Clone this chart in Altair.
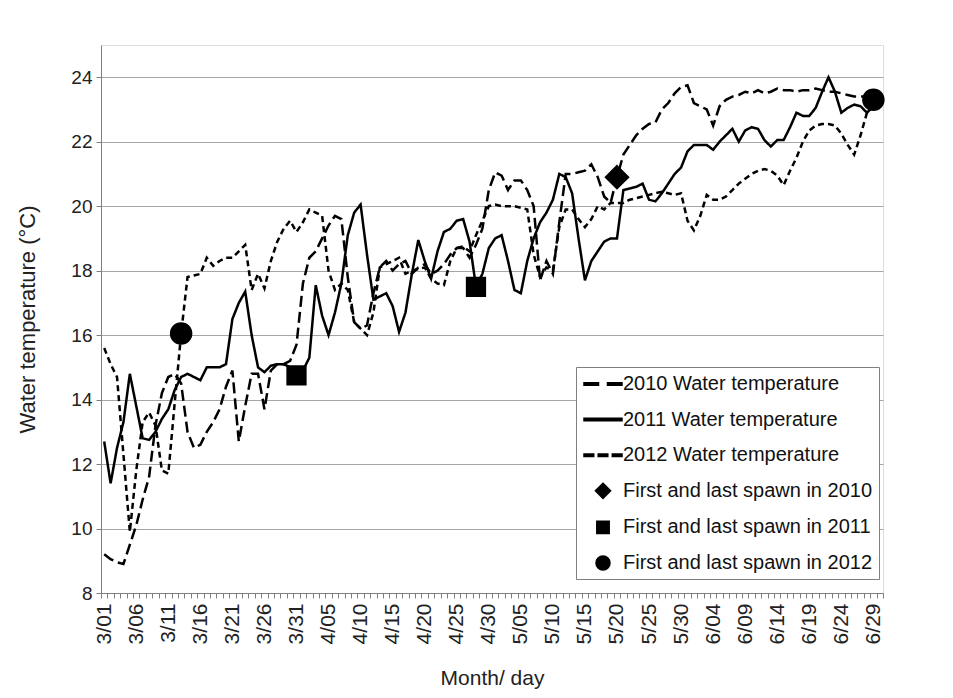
import altair as alt
import pandas as pd

# ---------------- data ----------------
MONTH_LENGTHS = [(3, 31), (4, 30), (5, 31), (6, 30)]
DAY_LABELS = [f"{m}/{d:02d}" for m, n in MONTH_LENGTHS for d in range(1, n + 1)]

TICK_LABELS = ["3/01", "3/06", "3/11", "3/16", "3/21", "3/26", "3/31", "4/05",
               "4/10", "4/15", "4/20", "4/25", "4/30", "5/05", "5/10", "5/15",
               "5/20", "5/25", "5/30", "6/04", "6/09", "6/14", "6/19", "6/24", "6/29"]

Y_TICKS = [8, 10, 12, 14, 16, 18, 20, 22, 24]

# daily water temperature 3/01 .. 6/29
T2010 = [9.2, 9.05, 8.95, 8.9, 9.5, 10.1, 10.9, 11.6, 13.2, 14.2,
         14.7, 14.8, 14.5, 13.0, 12.5, 12.6, 13.0, 13.3, 13.7, 14.4,
         14.9, 12.7, 13.8, 14.8, 14.8, 13.7, 14.9, 15.1, 15.1, 15.2,
         15.7, 17.6, 18.4, 18.6, 19.0, 19.4, 19.7, 19.6, 17.8, 16.4,
         16.2, 16.3, 17.3, 18.1, 18.3, 18.0, 18.2, 18.3, 17.9, 18.1,
         18.2, 17.9, 18.0, 18.2, 18.5, 18.7, 18.7, 18.4, 18.8, 19.3,
         20.5, 21.05, 20.95, 20.5, 20.8, 20.8, 20.5, 20.0, 17.7, 18.3,
         17.9, 19.5, 21.0, 21.0, 21.05, 21.1, 21.3, 20.9, 20.3, 20.1,
         20.9, 21.6, 21.9, 22.2, 22.4, 22.55, 22.6, 23.0, 23.2, 23.5,
         23.7, 23.75, 23.2, 23.1, 23.0, 22.5, 23.1, 23.3, 23.4, 23.45,
         23.55, 23.5, 23.6, 23.5, 23.55, 23.65, 23.6, 23.6, 23.55, 23.6,
         23.6, 23.65, 23.6, 23.55, 23.55, 23.5, 23.45, 23.4, 23.4, 23.4,
         23.35]

T2011 = [12.7, 11.4, 12.5, 13.3, 14.8, 13.8, 12.8, 12.75, 13.0, 13.4,
         13.7, 14.3, 14.7, 14.8, 14.7, 14.6, 15.0, 15.0, 15.0, 15.1,
         16.5, 17.0, 17.35, 16.0, 15.0, 14.85, 15.05, 15.1, 15.1, 15.0,
         14.8, 14.9, 15.3, 17.55, 16.6, 16.0, 16.7, 17.6, 19.1, 19.8,
         20.05, 18.5, 17.1, 17.2, 17.3, 16.9, 16.1, 16.7, 17.9, 18.95,
         18.3, 17.75, 18.6, 19.2, 19.3, 19.55, 19.6, 18.9, 17.5, 17.9,
         18.7, 19.0, 19.1, 18.3, 17.4, 17.3, 18.3, 19.0, 19.5, 19.8,
         20.2, 21.0, 20.9, 20.4, 19.0, 17.7, 18.3, 18.6, 18.9, 19.0,
         19.0, 20.5, 20.55, 20.6, 20.7, 20.2, 20.15, 20.4, 20.7, 21.0,
         21.2, 21.7, 21.9, 21.9, 21.9, 21.75, 22.0, 22.2, 22.4, 22.0,
         22.35, 22.45, 22.4, 22.05, 21.85, 22.05, 22.05, 22.45, 22.9, 22.8,
         22.8, 23.05, 23.55, 24.0, 23.55, 22.9, 23.05, 23.15, 23.1, 22.9,
         23.1]

T2012 = [15.6, 15.1, 14.7, 12.3, 9.9, 11.8, 13.3, 13.6, 13.2, 11.8,
         11.7, 13.9, 16.05, 17.8, 17.85, 17.9, 18.4, 18.15, 18.3, 18.4,
         18.4, 18.6, 18.8, 17.4, 17.9, 17.45, 18.3, 18.9, 19.3, 19.55,
         19.2, 19.5, 19.9, 19.8, 19.7, 18.0, 17.4, 17.6, 17.4, 16.4,
         16.2, 16.0, 16.7, 18.1, 18.2, 18.3, 18.4, 17.9, 18.0, 18.05,
         18.1, 17.75, 17.6, 17.55, 18.3, 18.7, 18.75, 18.6, 19.1, 19.55,
         20.0, 20.05, 20.0, 20.0, 20.0, 19.95, 19.9, 18.5, 17.8, 18.1,
         18.0, 19.35, 19.9, 19.9, 19.6, 19.35, 19.6, 20.0, 19.9, 20.1,
         20.1, 20.1, 20.2, 20.25, 20.3, 20.35, 20.4, 20.45, 20.4, 20.35,
         20.4, 19.55, 19.25, 19.7, 20.35, 20.2, 20.2, 20.3, 20.5, 20.7,
         20.85, 21.0, 21.1, 21.15, 21.1, 20.95, 20.65, 21.1, 21.5, 22.0,
         22.35, 22.5, 22.55, 22.55, 22.5, 22.25, 21.9, 21.6, 22.2, 22.9,
         23.3]

SERIES_NAMES = ["2010 Water temperature", "2011 Water temperature", "2012 Water temperature"]
MARKER_NAMES = ["First and last spawn in 2010", "First and last spawn in 2011",
                "First and last spawn in 2012"]

SPAWN_2010_DAYS = ["5/20"]
SPAWN_2010_TEMPS = [20.9]
SPAWN_2011_DAYS = ["3/31", "4/28"]
SPAWN_2011_TEMPS = [14.75, 17.5]
SPAWN_2012_DAYS = ["3/13", "6/29"]
SPAWN_2012_TEMPS = [16.05, 23.3]

# ---------------- tables ----------------
rows = []
for name, temps in zip(SERIES_NAMES, [T2010, T2011, T2012]):
    for i, t in enumerate(temps):
        rows.append({"idx": i, "day": DAY_LABELS[i], "temp": t, "series": name})
df_lines = pd.DataFrame(rows)

prow = []
for name, days, temps in zip(MARKER_NAMES,
                             [SPAWN_2010_DAYS, SPAWN_2011_DAYS, SPAWN_2012_DAYS],
                             [SPAWN_2010_TEMPS, SPAWN_2011_TEMPS, SPAWN_2012_TEMPS]):
    for d, t in zip(days, temps):
        prow.append({"day": d, "temp": t, "entry": name})
df_pts = pd.DataFrame(prow)

LEGEND_ENTRIES = SERIES_NAMES + MARKER_NAMES
# legend samples: line samples are thin filled bars, markers are filled shapes
SYMBOLS = [
    "M-1.9,-0.125H-0.45V0.125H-1.9ZM0.45,-0.125H1.9V0.125H0.45Z",
    "M-1.9,-0.125H1.9V0.125H-1.9Z",
    "M-1.9,-0.125H-0.93V0.125H-1.9ZM-0.48,-0.125H0.48V0.125H-0.48Z"
    "M0.93,-0.125H1.9V0.125H0.93Z",
    "M0,-0.76L0.76,0L0,0.76L-0.76,0Z",
    "M-0.62,-0.62H0.62V0.62H-0.62Z",
    "M-0.7,0A0.7,0.7,0,1,1,0.7,0A0.7,0.7,0,1,1,-0.7,0Z",
]

FONT = "Liberation Sans"
AXIS_GRAY = "#7f7f7f"

label_expr = "indexof(" + str(TICK_LABELS) + ", datum.value) >= 0 ? datum.value : ''"

x_enc = alt.X(
    "day:O",
    bandPosition=0.5,
    scale=alt.Scale(type="band", domain=DAY_LABELS, paddingInner=0, paddingOuter=0),
    axis=alt.Axis(
        values=DAY_LABELS, labelExpr=label_expr, labelAngle=270, labelOverlap=False,
        tickBand="extent", grid=False, tickSize=5, tickWidth=1, tickColor=AXIS_GRAY,
        domainColor=AXIS_GRAY, labelFontSize=21, labelFont=FONT, labelColor="#222",
        labelPadding=5, title="Month/ day", titleFont=FONT, titleFontSize=21,
        titleFontWeight="normal", titleColor="#222", titlePadding=24,
    ),
)
y_enc = alt.Y(
    "temp:Q",
    scale=alt.Scale(domain=[8, 25], nice=False, zero=False),
    axis=alt.Axis(
        values=Y_TICKS, grid=True, gridColor="#a6a6a6", gridWidth=1,
        domainColor=AXIS_GRAY, tickColor=AXIS_GRAY, tickSize=5,
        labelFontSize=19, labelFont=FONT, labelColor="#222", labelPadding=4,
        title="Water temperature (°C)", titleFont=FONT, titleFontSize=22,
        titleFontWeight="normal", titleColor="#222", titlePadding=31,
    ),
)

lines = alt.Chart(df_lines).mark_line(color="black", strokeWidth=2.5).encode(
    x=x_enc,
    y=y_enc,
    order=alt.Order("idx:Q"),
    strokeDash=alt.StrokeDash(
        "series:N",
        scale=alt.Scale(domain=SERIES_NAMES, range=[[11, 5], [1, 0], [6, 4]]),
        legend=None,
    ),
)

points = alt.Chart(df_pts).mark_point(
    filled=True, size=820, fill="black", stroke="black", strokeWidth=2.5, opacity=1
).encode(
    x=x_enc,
    y=y_enc,
    shape=alt.Shape(
        "entry:N",
        scale=alt.Scale(domain=LEGEND_ENTRIES, range=SYMBOLS),
        legend=alt.Legend(
            title=None, orient="none", legendX=475, legendY=322,
            fillColor="white", strokeColor="#7f7f7f", padding=6,
            symbolSize=400, symbolOffset=10, symbolFillColor="black",
            labelFont=FONT, labelFontSize=20, labelColor="#111", labelLimit=400,
            labelOffset=9, rowPadding=14.6,
        ),
    ),
)

chart = alt.layer(lines, points).properties(
    width=782, height=548,
    padding={"left": 93, "top": 37, "right": 60, "bottom": 100},
    autosize=alt.AutoSizeParams(type="none"),
).configure_view(stroke=None).configure(font=FONT)

chart.save("out.html", embed_options={"renderer": "svg", "actions": False})
